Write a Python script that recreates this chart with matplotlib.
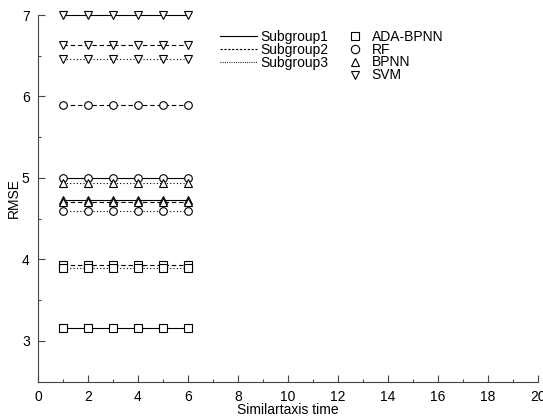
import matplotlib
matplotlib.use("Agg")
import matplotlib.pyplot as plt
from matplotlib.lines import Line2D
from matplotlib.ticker import MultipleLocator

plt.rcParams['font.family'] = ['Liberation Sans', 'DejaVu Sans']

x = [1, 2, 3, 4, 5, 6]
models = ["ADA-BPNN", "RF", "BPNN", "SVM"]
markers = ["s", "o", "^", "v"]
subgroups = ["Subgroup1", "Subgroup2", "Subgroup3"]

# RMSE per model per subgroup (constant across time)
ada_rmse = [3.16, 3.93, 3.89]
rf_rmse = [5.00, 5.90, 4.60]
bpnn_rmse = [4.73, 4.70, 4.94]
svm_rmse = [7.00, 6.63, 6.46]
values = [ada_rmse, rf_rmse, bpnn_rmse, svm_rmse]

linestyles = ['-', (0, (4, 2.5)), (0, (1, 2))]
legend_styles = ['-', (0, (2, 1.5)), (0, (0.8, 1.2))]

FS = 10

fig = plt.figure(figsize=(5.43, 4.19), dpi=100)
ax = fig.add_axes([38/543, 1-381.7/419, 500/543, (381.7-15)/419])

for m, mk in enumerate(markers):
    for s in range(3):
        ax.plot(x, [values[m][s]]*len(x), linestyle=linestyles[s], color='black',
                lw=0.8, marker=mk, markersize=5.5, markerfacecolor='white',
                markeredgecolor='black', markeredgewidth=0.8, clip_on=False)

ax.set_xlim(0, 20)
ax.set_ylim(2.5, 7)
ax.xaxis.set_major_locator(MultipleLocator(2))
ax.xaxis.set_minor_locator(MultipleLocator(1))
ax.yaxis.set_major_locator(MultipleLocator(1))
ax.yaxis.set_minor_locator(MultipleLocator(0.5))
for sp in ['top', 'right']:
    ax.spines[sp].set_visible(False)
for sp in ['left', 'bottom']:
    ax.spines[sp].set_color('#444444')
    ax.spines[sp].set_linewidth(0.8)
ax.tick_params(which='both', direction='in', colors='#444444', labelcolor='black',
               labelsize=FS, width=0.8)
ax.tick_params(which='major', length=5)
ax.tick_params(which='minor', length=2.5)
ax.tick_params(axis='x', which='major', pad=6)
ax.tick_params(axis='y', which='major', pad=6)
ax.set_xlabel("Similartaxis time", fontsize=FS, labelpad=-1)
ax.set_ylabel("RMSE", fontsize=FS, labelpad=1)

line_handles = [Line2D([], [], color='black', lw=0.8, linestyle=legend_styles[s]) for s in range(3)]
leg1 = ax.legend(line_handles, subgroups, loc='upper left', bbox_to_anchor=(210/543, 1-20/419),
                 bbox_transform=fig.transFigure, frameon=False, fontsize=FS,
                 handlelength=2.7, handletextpad=0.2, labelspacing=-0.08, borderpad=0.2)
ax.add_artist(leg1)
marker_handles = [Line2D([], [], color='black', linestyle='none', marker=mk, markersize=6,
                         markerfacecolor='white', markeredgewidth=0.8) for mk in markers]
ax.legend(marker_handles, models, loc='upper left', bbox_to_anchor=(337/543, 1-20/419),
          bbox_transform=fig.transFigure, frameon=False, fontsize=FS,
          handlelength=1.2, handletextpad=0.6, labelspacing=-0.08, borderpad=0.2)

fig.savefig("out.png", dpi=100)
